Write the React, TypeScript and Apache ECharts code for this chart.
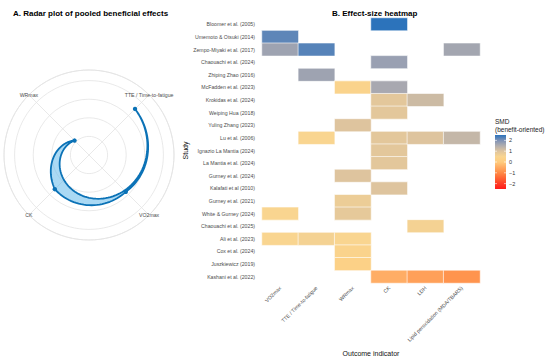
import React, { useEffect, useRef } from "react";
import * as echarts from "echarts";

// ---------- Data ----------
// Radar (pooled beneficial effects), clockwise from upper-right
const radarAxes = ["TTE / Time-to-fatigue", "VO2max", "CK", "WRmax"];
const radarValues = [3.5, 2.8, 2.6, 1.1];
const radarMax = 4.57;

// Heatmap
const outcomes = ["VO2max", "TTE / Time-to-fatigue", "WRmax", "CK", "LDH", "Lipid peroxidation (MDA/TBARS)"];
const studies = [
  "Bloomer et al. (2005)",
  "Umemoto & Otsuki (2014)",
  "Zempo-Miyaki et al. (2017)",
  "Chaouachi et al. (2024)",
  "Zhiping Zhao (2016)",
  "McFadden et al. (2023)",
  "Krokidas et al. (2024)",
  "Weiping Hua (2018)",
  "Yuling Zhang (2023)",
  "Lu et al. (2006)",
  "Ignazio La Mantia (2024)",
  "La Mantia et al. (2024)",
  "Gurney et al. (2024)",
  "Kalafati et al (2010)",
  "Gurney et al. (2021)",
  "White & Gurney (2024)",
  "Chaouachi et al. (2025)",
  "Ali et al. (2023)",
  "Cox et al. (2024)",
  "Juszkiewicz (2019)",
  "Kashani et al. (2022)",
];
const N = null;
//                 0    1    2    3    4    5    6    7    8    9   10   11   12   13   14   15   16   17   18   19   20
const smdVO2max = [N, 2.2, 1.7, N, N, N, N, N, N, N, N, N, N, N, N, 0.5, N, 0.5, N, N, N];
const smdTTE = [N, N, 2.25, N, 1.7, N, N, N, N, 0.5, N, N, N, N, N, N, N, 0.6, N, N, N];
const smdWRmax = [N, N, N, N, N, 0.4, N, N, 1.0, N, N, N, 1.0, N, 0.75, 0.85, N, 0.5, 0.4, 0.25, N];
const smdCK = [2.5, N, N, 1.75, N, 1.6, 0.9, 0.9, N, 0.9, 0.9, 0.9, N, 1.0, N, N, N, N, N, N, -0.45];
const smdLDH = [N, N, N, N, N, N, 1.2, N, N, 1.0, N, N, N, N, N, N, 0.6, N, N, N, -0.65];
const smdLipid = [N, N, 1.65, N, N, N, N, N, N, 1.3, N, N, N, N, N, N, N, N, N, N, -0.85];
const smdColumns = [smdVO2max, smdTTE, smdWRmax, smdCK, smdLDH, smdLipid];

const legendTicks = [2, 1, 0, -1, -2];
const scaleMin = -2.5;
const scaleMax = 2.5;

// ---------- Styles ----------
const FONT = "'Liberation Sans', Arial, sans-serif";
const scaleColors = [
  "#FF1A1A", "#FF3D26", "#FF6433", "#FF8A45", "#FFAA62", "#FFCC7E",
  "#F9D590", "#DEC49E", "#B2AEAE", "#7F92B6", "#2C73BB",
];

export default function App() {
  const ref = useRef<HTMLDivElement>(null);

  useEffect(() => {
    document.body.style.margin = "0";
    if (!ref.current) return;
    const chart = echarts.init(ref.current, undefined, { renderer: "svg" });

    const heatData: any[] = [];
    smdColumns.forEach((col, c) => {
      col.forEach((v, r) => {
        if (v !== null) heatData.push([c, r, v]);
      });
    });

    const legendX = 495, legendW = 11, legendTop = 135, legendH = 54;
    const vToY = (v: number) => legendTop + ((scaleMax - v) / (scaleMax - scaleMin)) * legendH;
    const stops = scaleColors
      .slice()
      .reverse()
      .map((c, i) => ({ offset: i / (scaleColors.length - 1), color: c }));

    const legendEls: any[] = [
      {
        type: "text", left: legendX, top: 117,
        style: { text: "SMD\n(benefit-oriented)", fill: "#222", font: `6.5px ${FONT}`, lineHeight: 8 },
      },
      {
        type: "rect",
        shape: { x: legendX, y: legendTop, width: legendW, height: legendH },
        style: { fill: new echarts.graphic.LinearGradient(0, 0, 0, 1, stops) },
      },
    ];
    legendTicks.forEach((t) => {
      const y = vToY(t);
      legendEls.push({
        type: "line", shape: { x1: legendX, y1: y, x2: legendX + 2, y2: y },
        style: { stroke: "#fff", lineWidth: 0.6 },
      });
      legendEls.push({
        type: "line", shape: { x1: legendX + legendW - 2, y1: y, x2: legendX + legendW, y2: y },
        style: { stroke: "#fff", lineWidth: 0.6 },
      });
      legendEls.push({
        type: "text", x: legendX + legendW + 3, y,
        style: { text: t < 0 ? "\u2212" + Math.abs(t) : String(t), fill: "#333", font: `5.5px ${FONT}`, verticalAlign: "middle", align: "left" },
      });
    });

    const option: any = {
      animation: false,
      textStyle: { fontFamily: FONT },
      title: [
        { text: "A. Radar plot of pooled beneficial effects", left: 8, top: 4, textStyle: { fontSize: 8, fontWeight: "bold", color: "#000", fontFamily: FONT } },
        { text: "B. Effect-size heatmap", left: 327, top: 4, textStyle: { fontSize: 8, fontWeight: "bold", color: "#000", fontFamily: FONT } },
      ],
      grid: { left: 262, top: 18, width: 218, height: 271 },
      xAxis: {
        type: "category", data: outcomes,
        axisLine: { show: false }, axisTick: { show: false }, splitLine: { show: false },
        axisLabel: { rotate: 45, interval: 0, fontSize: 5.2, color: "#4d4d4d", margin: 4, fontFamily: FONT },
        name: "Outcome indicator", nameLocation: "middle", nameGap: 67,
        nameTextStyle: { fontSize: 7, color: "#111", fontFamily: FONT },
      },
      yAxis: {
        type: "category", data: studies, inverse: true,
        axisLine: { show: false }, axisTick: { show: false }, splitLine: { show: false },
        axisLabel: { fontSize: 5.2, color: "#4d4d4d", margin: 7, fontFamily: FONT },
        name: "Study", nameLocation: "middle", nameGap: 62, nameRotate: 90,
        nameTextStyle: { fontSize: 7, color: "#111", fontFamily: FONT },
      },
      polar: { center: [89, 155], radius: 85 },
      angleAxis: {
        type: "value", min: 0, max: 4, interval: 1, startAngle: 45, clockwise: true,
        axisLine: { lineStyle: { color: "#e3e3e3", width: 0.8 } },
        axisTick: { show: false }, axisLabel: { show: false },
        splitLine: { show: true, lineStyle: { color: "#e3e3e3", width: 0.8 } },
      },
      radiusAxis: {
        type: "value", min: 0, max: radarMax, interval: 1,
        axisLine: { show: false }, axisTick: { show: false }, axisLabel: { show: false },
        splitLine: { show: true, lineStyle: { color: "#e3e3e3", width: 0.8 } },
      },
      visualMap: {
        type: "continuous", show: false, min: scaleMin, max: scaleMax, dimension: 2, seriesIndex: 0,
        inRange: { color: scaleColors },
      },
      series: [
        {
          type: "heatmap", data: heatData,
          itemStyle: { borderColor: "#ffffff", borderWidth: 0.6 },
        },
        {
          type: "custom", coordinateSystem: "polar", data: [[0, 0]], silent: true, z: 5,
          renderItem: (params: any, api: any) => {
            const n = radarValues.length;
            const steps = 30;
            const pts: number[][] = [];
            for (let i = 0; i < n - 1; i++) {
              for (let s = 0; s < steps; s++) {
                const t = s / steps;
                pts.push(api.coord([radarValues[i] + (radarValues[i + 1] - radarValues[i]) * t, i + t]));
              }
            }
            const total = steps * (n - 1);
            for (let s = 0; s <= total; s++) {
              const t = s / total;
              pts.push(api.coord([radarValues[n - 1] + (radarValues[0] - radarValues[n - 1]) * t, (n - 1) * (1 - t)]));
            }
            const children: any[] = [
              {
                type: "polygon", shape: { points: pts },
                style: { fill: "rgba(86,180,233,0.5)", stroke: "#0b72b6", lineWidth: 1.8, lineJoin: "round" },
              },
            ];
            radarValues.forEach((v, i) => {
              const p = api.coord([v, i]);
              children.push({ type: "circle", shape: { cx: p[0], cy: p[1], r: 2.2 }, style: { fill: "#0b72b6" } });
            });
            radarAxes.forEach((name, i) => {
              const p = api.coord([radarMax, i]);
              children.push({
                type: "text", x: p[0], y: p[1],
                style: { text: name, fill: "#4d4d4d", font: `5.2px ${FONT}`, align: "center", verticalAlign: "middle" },
              });
            });
            return { type: "group", children };
          },
        },
      ],
      graphic: legendEls,
    };

    chart.setOption(option);
    return () => chart.dispose();
  }, []);

  return (
    <div
      ref={ref}
      style={{ width: 550, height: 362, position: "fixed", left: 0, top: 0, background: "#fff" }}
    />
  );
}
